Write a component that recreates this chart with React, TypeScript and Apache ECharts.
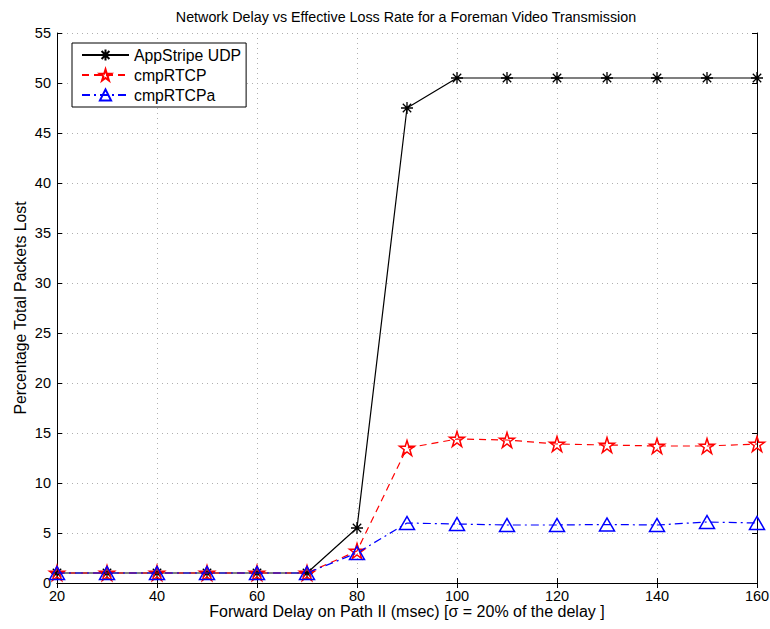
import React, { useEffect, useRef } from "react";
import * as echarts from "echarts";

const delays = [20, 30, 40, 50, 60, 70, 80, 90, 100, 110, 120, 130, 140, 150, 160];
const appStripeUDP = [1.0, 1.0, 1.0, 1.0, 1.0, 1.0, 5.5, 47.5, 50.5, 50.5, 50.5, 50.5, 50.5, 50.5, 50.5];
const cmpRTCP = [1.0, 1.0, 1.0, 1.0, 1.0, 1.0, 3.2, 13.5, 14.4, 14.3, 13.9, 13.8, 13.7, 13.7, 13.9];
const cmpRTCPa = [1.0, 1.0, 1.0, 1.0, 1.0, 1.0, 3.0, 6.0, 5.9, 5.8, 5.8, 5.85, 5.8, 6.1, 6.0];
const seriesNames = ["AppStripe UDP", "cmpRTCP", "cmpRTCPa"];

const FONT = "Liberation Sans, Arial, Helvetica, sans-serif";
const ASTERISK = "path://M0,-10L0,10M-10,0L10,0M-7,-7L7,7M-7,7L7,-7";
const STAR =
  "path://M0,-10L2.23,-3.07L9.51,-3.09L3.61,1.17L5.88,8.09L0,3.8L-5.88,8.09L-3.61,1.17L-9.51,-3.09L-2.23,-3.07Z";

export default function App() {
  const ref = useRef<HTMLDivElement>(null);
  useEffect(() => {
    if (!ref.current) return;
    const chart = echarts.init(ref.current, undefined, { renderer: "svg" });
    const pair = (ys: number[]) => delays.map((d, i) => [d, ys[i]]);
    const grid = { left: 57, top: 33, right: 13, bottom: 46, containLabel: false, outerBoundsMode: "none" };
    const gridStyle = { show: true, lineStyle: { color: "#b0b0b0", type: [1, 4] as any, width: 1 } };
    chart.setOption({
      animation: false,
      backgroundColor: "#fff",
      textStyle: { fontFamily: FONT },
      grid,
      graphic: [
        {
          type: "text",
          x: 406,
          y: 17,
          style: {
            text: "Network Delay vs Effective Loss Rate for a Foreman Video Transmission",
            font: `14.3px ${FONT}`,
            fill: "#000",
            textAlign: "center",
            textVerticalAlign: "middle",
          },
        },
      ],
      legend: {
        orient: "vertical",
        left: 72,
        top: 43,
        padding: [4, 5, 4, 9],
        itemWidth: 47,
        itemHeight: 14,
        itemGap: 4,
        borderColor: "#000",
        borderWidth: 1,
        borderRadius: 0,
        backgroundColor: "#fff",
        textStyle: { fontSize: 15.8, color: "#000", fontFamily: FONT },
        data: seriesNames,
      },
      xAxis: [
        {
          type: "value",
          min: 20,
          max: 160,
          interval: 20,
          name: "Forward Delay on Path II (msec) [σ = 20% of the delay ]",
          nameLocation: "middle",
          nameGap: 20,
          nameMoveOverlap: false,
          nameTextStyle: { fontSize: 16, color: "#000", fontFamily: FONT },
          axisLine: { show: true, lineStyle: { color: "#000", width: 1 } },
          axisTick: { show: true, inside: true, length: 5, lineStyle: { color: "#000" } },
          axisLabel: { fontSize: 14.5, color: "#000", margin: 5, fontFamily: FONT },
          splitLine: gridStyle,
        },
        {
          type: "value",
          position: "top",
          min: 20,
          max: 160,
          interval: 20,
          axisLine: { show: true, lineStyle: { color: "#000", width: 1 } },
          axisTick: { show: true, inside: true, length: 5, lineStyle: { color: "#000" } },
          axisLabel: { show: false },
          splitLine: { show: false },
        },
      ],
      yAxis: [
        {
          type: "value",
          min: 0,
          max: 55,
          interval: 5,
          name: "Percentage Total Packets Lost",
          nameLocation: "middle",
          nameGap: 29,
          nameMoveOverlap: false,
          nameTextStyle: { fontSize: 15.8, color: "#000", fontFamily: FONT },
          axisLine: { show: true, lineStyle: { color: "#000", width: 1 } },
          axisTick: { show: true, inside: true, length: 5, lineStyle: { color: "#000" } },
          axisLabel: { fontSize: 14.5, color: "#000", margin: 6, fontFamily: FONT },
          splitLine: gridStyle,
        },
        {
          type: "value",
          position: "right",
          min: 0,
          max: 55,
          interval: 5,
          axisLine: { show: true, lineStyle: { color: "#000", width: 1 } },
          axisTick: { show: true, inside: true, length: 5, lineStyle: { color: "#000" } },
          axisLabel: { show: false },
          splitLine: { show: false },
        },
      ],
      series: [
        {
          name: seriesNames[0],
          type: "line",
          data: pair(appStripeUDP),
          symbol: ASTERISK,
          symbolSize: 12,
          z: 3,
          lineStyle: { color: "#000", width: 1.2, type: "solid" },
          itemStyle: { color: "#000", borderColor: "#000", borderWidth: 1.3 },
        },
        {
          name: seriesNames[1],
          type: "line",
          data: pair(cmpRTCP),
          symbol: STAR,
          symbolSize: 15,
          z: 4,
          lineStyle: { color: "#ff0000", width: 1.2, type: [7, 5] },
          itemStyle: { color: "rgba(255,255,255,0)", borderColor: "#ff0000", borderWidth: 1.5 },
        },
        {
          name: seriesNames[2],
          type: "line",
          data: pair(cmpRTCPa),
          symbol: "triangle",
          symbolSize: [15, 13],
          z: 5,
          lineStyle: { color: "#0000ff", width: 1.2, type: [8, 4, 2, 4] },
          itemStyle: { color: "rgba(255,255,255,0)", borderColor: "#0000ff", borderWidth: 1.5 },
        },
      ],
    });
    return () => chart.dispose();
  }, []);
  return (
    <div
      ref={ref}
      style={{ position: "fixed", left: 0, top: 0, width: 770, height: 629, background: "#fff" }}
    />
  );
}
